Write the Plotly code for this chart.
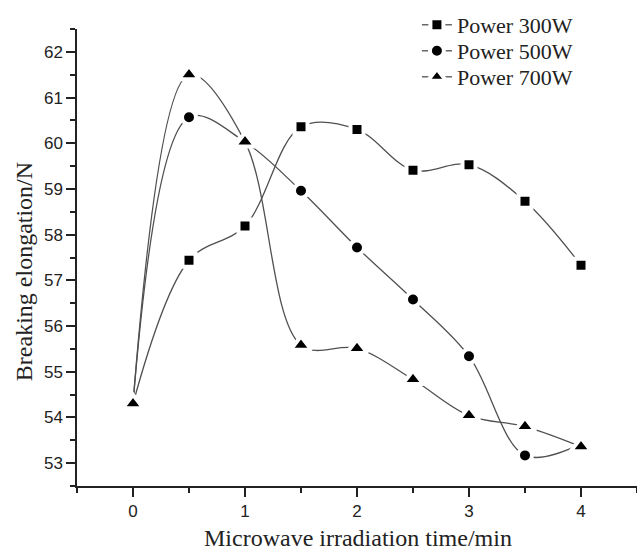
import plotly.graph_objects as go

time_min = [0, 0.5, 1, 1.5, 2, 2.5, 3, 3.5, 4]
power_300w = [54.3, 57.44, 58.19, 60.36, 60.3, 59.41, 59.53, 58.73, 57.33]
power_500w = [54.3, 60.57, 60.03, 58.96, 57.72, 56.58, 55.34, 53.17, 53.42]
power_700w = [54.3, 61.5, 60.03, 55.58, 55.51, 54.83, 54.04, 53.8, 53.36]

series = [
    ("Power 300W", power_300w, "square", 13, "legend", 23),
    ("Power 500W", power_500w, "circle", 14, "legend2", 49),
    ("Power 700W", power_700w, "triangle-up", 18, "legend3", 75),
]

serif = "Liberation Serif, Times New Roman, serif"
plot_top, plot_h = 29, 456.7

fig = go.Figure()
legends = {}
for name, vals, sym, sz, leg, row_y in series:
    fig.add_trace(go.Scatter(
        x=time_min, y=vals, name=name, mode="lines+markers", legend=leg,
        line=dict(color="#505050", width=1.3, shape="spline", smoothing=1.0),
        marker=dict(symbol=sym, size=sz, color="black",
                    line=dict(color="white", width=4)),
    ))
    legends[leg] = dict(x=0.607, y=1 + (plot_top - (row_y - 19)) / plot_h,
                        xanchor="left", yanchor="top", bgcolor="rgba(0,0,0,0)",
                        font=dict(family=serif, size=22, color="#222"), itemwidth=30)

tickfont = dict(family="Liberation Sans, Arial, sans-serif", size=17, color="#222")
fig.update_layout(
    width=637, height=554,
    margin=dict(l=77, r=0, t=29, b=68),
    paper_bgcolor="white", plot_bgcolor="white",
    showlegend=True,
    **legends,
    xaxis=dict(range=[-0.5, 4.5], tickmode="array", tickvals=[0, 1, 2, 3, 4],
               ticks="outside", ticklen=9, tickwidth=1.5, tickcolor="#222",
               showline=True, linecolor="#222", linewidth=1.5,
               showgrid=False, zeroline=False, tickfont=tickfont,
               minor=dict(tickvals=[-0.5, 0.5, 1.5, 2.5, 3.5, 4.5], ticks="outside",
                          ticklen=5, tickwidth=1.5, tickcolor="#222")),
    yaxis=dict(range=[52.5, 62.5], tickmode="array",
               tickvals=[53, 54, 55, 56, 57, 58, 59, 60, 61, 62],
               ticks="outside", ticklen=9, tickwidth=1.5, tickcolor="#222",
               showline=True, linecolor="#222", linewidth=1.5,
               showgrid=False, zeroline=False, tickfont=tickfont,
               minor=dict(tickvals=[52.5, 53.5, 54.5, 55.5, 56.5, 57.5, 58.5, 59.5, 60.5, 61.5, 62.5],
                          ticks="outside", ticklen=5, tickwidth=1.5, tickcolor="#222")),
    annotations=[
        dict(text="Microwave irradiation time/min", xref="paper", yref="paper",
             x=(358 - 77) / 560, y=-(538 - 485.7) / plot_h, xanchor="center", yanchor="middle",
             showarrow=False,
             font=dict(family=serif, size=24, color="#222")),
        dict(text="Breaking elongation/N", xref="paper", yref="paper",
             x=-(77 - 24) / 560, y=(485.7 - 272) / plot_h, xanchor="center", yanchor="middle",
             textangle=-90, showarrow=False,
             font=dict(family=serif, size=24, color="#222")),
    ],
)

fig.write_html("out.html")
